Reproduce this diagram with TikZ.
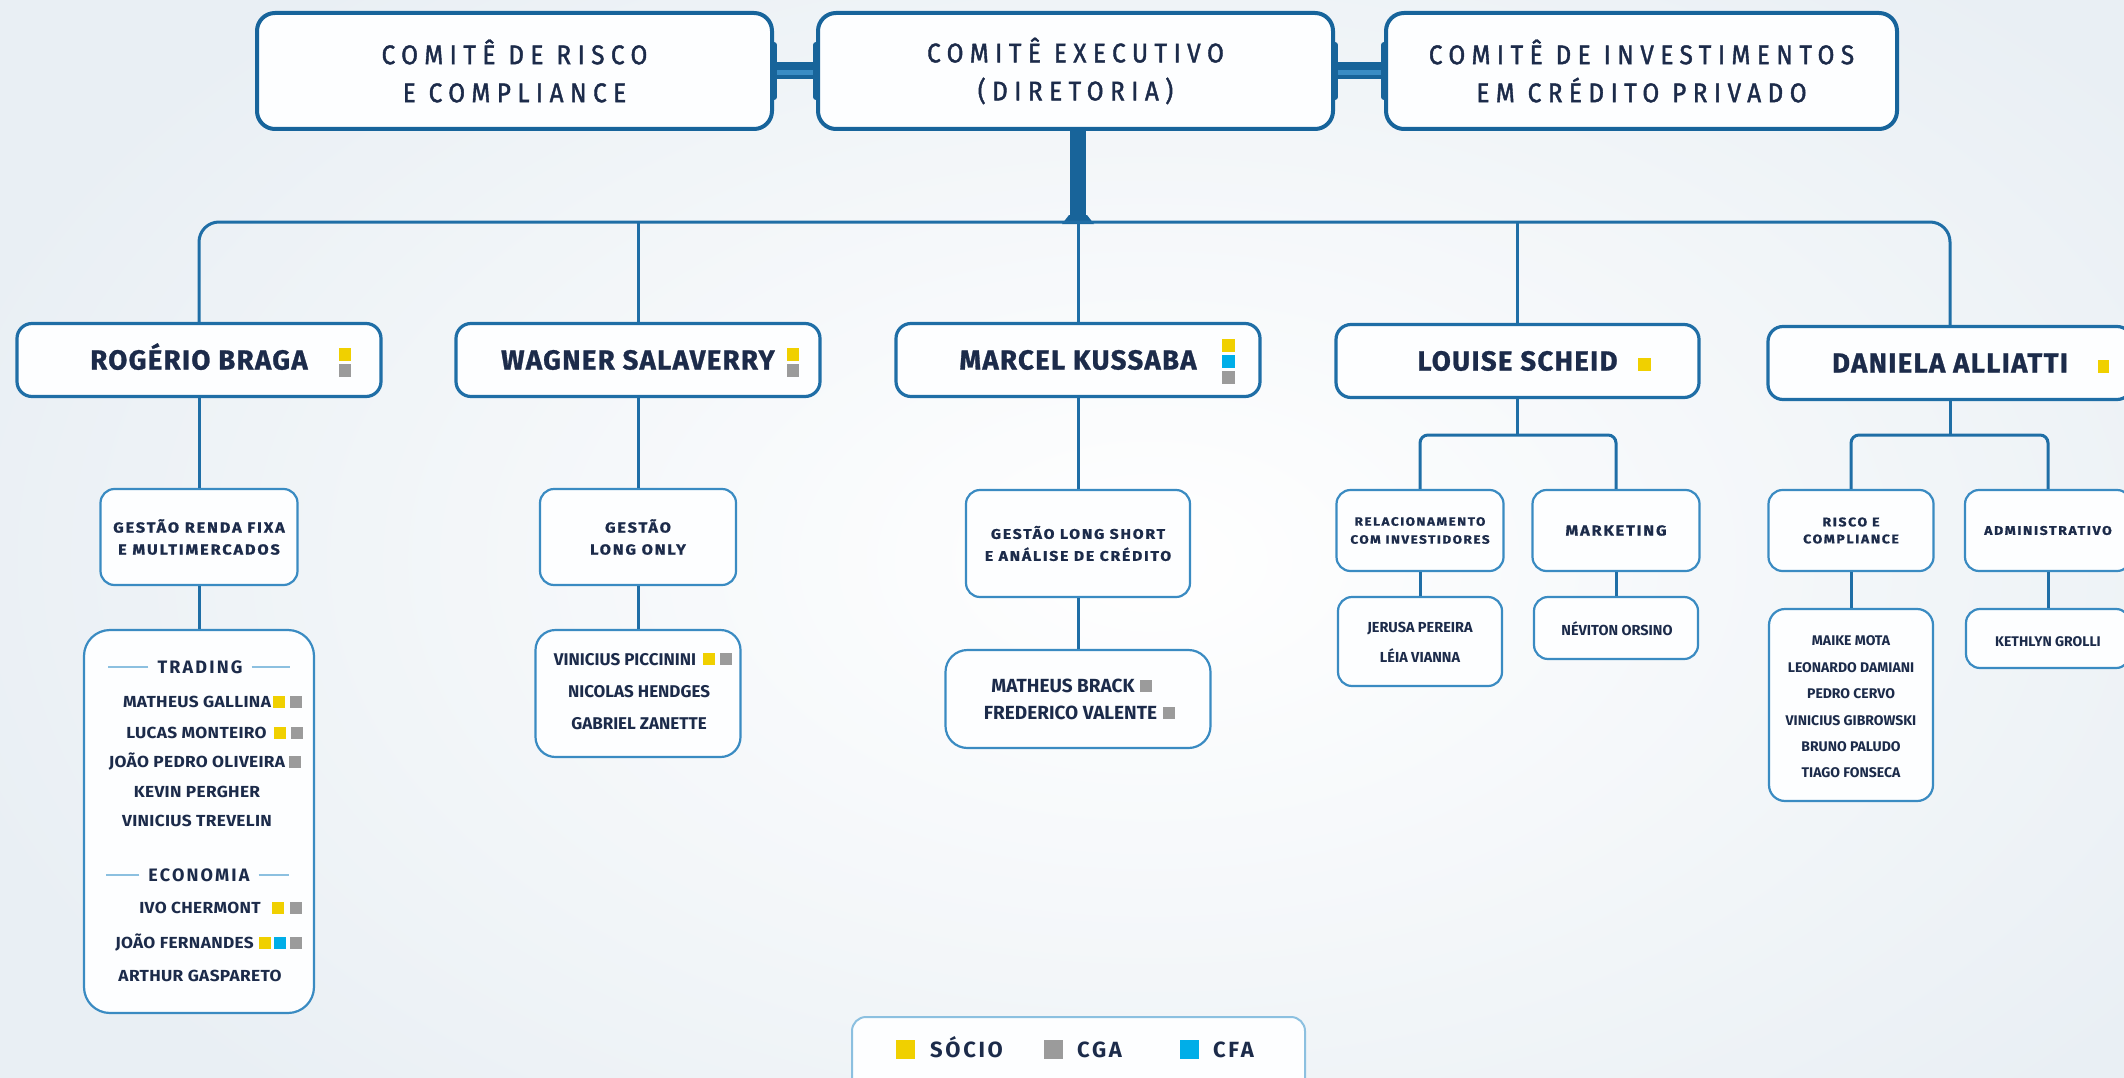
\documentclass[tikz,border=0pt]{standalone}
\usepackage{fontspec}
\setmainfont{Fira Sans}
\newfontfamily\topfont[LetterSpace=24,FakeStretch=0.9,FakeBold=1.5]{Fira Sans}
\newfontfamily\dirfont[LetterSpace=5,FakeBold=1]{Fira Sans}
\newfontfamily\secfont[LetterSpace=13,FakeStretch=1.12,FakeBold=1]{Fira Sans}
\newfontfamily\trfont[LetterSpace=2,FakeStretch=1.08]{Fira Sans}
\newfontfamily\ttlfont[LetterSpace=12]{Fira Sans}
\definecolor{ctext}{HTML}{1C2B4A}
\definecolor{cblue}{HTML}{1F6EA6}
\definecolor{cblue2}{HTML}{3A8BC2}
\definecolor{cdark}{HTML}{17649B}
\definecolor{cbar}{HTML}{18649A}
\definecolor{cbarl}{HTML}{3A8CC4}
\definecolor{cyel}{HTML}{F0D000}
\definecolor{cgray}{HTML}{9B9B9B}
\definecolor{ccyan}{HTML}{00AEE8}
\definecolor{clight}{HTML}{8CC0E0}
\definecolor{bg}{HTML}{E9EFF4}
\definecolor{cbox}{HTML}{FDFEFF}
\usetikzlibrary{calc}
\tikzset{
  topbox/.style={draw=cdark, line width=4pt, rounded corners=18pt, fill=cbox, text=ctext, align=center,
    minimum height=116pt, inner sep=0pt, font=\topfont\fontsize{27}{38}\selectfont},
  dirbox/.style={draw=cblue, line width=3.2pt, rounded corners=15pt, fill=cbox, text=ctext,
    minimum height=73pt, inner sep=0pt, text height=19pt, text depth=0pt,
    font=\dirfont\bfseries\fontsize{27.5}{30}\selectfont},
  secbox/.style={draw=cblue2, line width=2.2pt, rounded corners=14pt, fill=cbox, text=ctext, align=center, inner sep=0pt},
  listbox/.style={draw=cblue2, line width=2.2pt, rounded corners=18pt, fill=cbox, inner sep=0pt},
  conn/.style={draw=cblue, line width=3pt},
  bar/.style={draw=cbar, line width=17pt},
  barhi/.style={draw=cbarl, line width=5pt},
  clamp/.style={draw=cbar, line width=6pt, line cap=round},
  trunk/.style={draw=cbar, line width=16pt},
  badge/.style={fill=#1, draw=none, inner sep=0pt, minimum width=12pt, minimum height=12pt},
  nm/.style={text=ctext, inner sep=0pt, font=\trfont\bfseries\fontsize{16}{16}\selectfont, text height=11pt, text depth=0pt},
  nmw/.style={text=ctext, inner sep=0pt, font=\bfseries\fontsize{17}{17}\selectfont, text height=12pt, text depth=0pt},
  nmm/.style={text=ctext, inner sep=0pt, font=\bfseries\fontsize{19}{19}\selectfont, text height=13pt, text depth=0pt},
  nms/.style={text=ctext, inner sep=0pt, font=\bfseries\fontsize{14.5}{14.5}\selectfont, text height=10pt, text depth=0pt},
  nmd/.style={text=ctext, inner sep=0pt, font=\bfseries\fontsize{14}{14}\selectfont, text height=10pt, text depth=0pt},
  ttl/.style={text=ctext, inner sep=0pt, font=\ttlfont\bfseries\fontsize{18}{18}\selectfont, text height=12.5pt, text depth=0pt},
  deco/.style={draw=clight, line width=2pt},
  legtxt/.style={text=ctext, inner sep=0pt, anchor=west, font=\ttlfont\bfseries\fontsize{22}{22}\selectfont, text height=15pt, text depth=0pt},
}
\begin{document}
\begin{tikzpicture}[x=1pt,y=-1pt]
\useasboundingbox (0,0) rectangle (2124,1078);
\fill[bg] (0,0) rectangle (2124,1078);
\shade[inner color=white, outer color=bg] (1150,560) ellipse (1250 and 760);

% top committees
\node[topbox, minimum width=515pt] (ris) at (514.5,71) {COMITÊ DE RISCO\\E COMPLIANCE};
\node[topbox, minimum width=515pt] (exe) at (1075.5,71) {COMITÊ EXECUTIVO\\(DIRETORIA)};
\node[topbox, minimum width=511pt] (inv) at (1641.5,71) {COMITÊ DE INVESTIMENTOS\\EM CRÉDITO PRIVADO};

\draw[bar] (ris.east) -- (exe.west);
\draw[barhi] ([yshift=-2pt]ris.east) -- ([yshift=-2pt]exe.west);
\draw[bar] (exe.east) -- (inv.west);
\draw[barhi] ([yshift=-2pt]exe.east) -- ([yshift=-2pt]inv.west);
\draw[clamp] ([yshift=26pt]ris.east) -- ([yshift=-26pt]ris.east);
\draw[clamp] ([yshift=26pt]exe.west) -- ([yshift=-26pt]exe.west);
\draw[clamp] ([yshift=26pt]exe.east) -- ([yshift=-26pt]exe.east);
\draw[clamp] ([yshift=26pt]inv.west) -- ([yshift=-26pt]inv.west);

% directors
\node[dirbox, minimum width=364pt] (rog) at (199,360) {ROGÉRIO BRAGA};
\node[dirbox, minimum width=364pt] (wag) at (638,360) {WAGNER SALAVERRY};
\node[dirbox, minimum width=364pt] (mar) at (1078,360) {MARCEL KUSSABA};
\node[dirbox, minimum width=363pt] (lou) at (1517.5,361) {LOUISE SCHEID};
\node[dirbox, minimum width=364pt] (dan) at (1950,363) {DANIELA ALLIATTI};

% trunk and bus
\coordinate (foot) at (1078,222);
\draw[trunk] (foot |- exe.south) -- (foot);
\fill[cbar] (1062,224) -- (1094,224) -- (1087,215) -- (1069,215) -- cycle;
\draw[conn, rounded corners=20pt] (rog.north) |- (foot) -| (dan.north);
\draw[conn] (wag.north) -- (wag.north |- foot);
\draw[conn] (mar.north) -- (foot);
\draw[conn] (lou.north) -- (lou.north |- foot);

% director badges
\node[badge=cyel, minimum height=13pt] (rb1) at (345,354.5) {};
\node[badge=cgray, minimum height=13pt] (rb2) at (345,370.5) {};
\node[badge=cyel, minimum height=13pt] (wb1) at (793,354.5) {};
\node[badge=cgray, minimum height=13pt] (wb2) at (793,370.5) {};
\node[badge=cyel, minimum width=13pt, minimum height=13pt] (mb1) at (1228.5,345.5) {};
\node[badge=ccyan, minimum width=13pt, minimum height=13pt] (mb2) at (1228.5,361.5) {};
\node[badge=cgray, minimum width=13pt, minimum height=13pt] (mb3) at (1228.5,377.5) {};
\node[badge=cyel, minimum width=13pt, minimum height=13pt] (lb1) at (1644.5,364.5) {};
\node[badge=cyel, minimum width=11pt, minimum height=13pt] (db1) at (2103.5,366.5) {};

% section boxes
\node[secbox, minimum width=197pt, minimum height=96pt, font=\secfont\bfseries\fontsize{14.5}{22}\selectfont] (grf) at (199,537) {GESTÃO RENDA FIXA\\E MULTIMERCADOS};
\node[secbox, minimum width=196pt, minimum height=96pt, font=\secfont\bfseries\fontsize{14.5}{22}\selectfont] (glo) at (638,537) {GESTÃO\\LONG ONLY};
\node[secbox, minimum width=224pt, minimum height=107pt, font=\secfont\bfseries\fontsize{14}{22}\selectfont] (gls) at (1078,543.5) {GESTÃO LONG SHORT\\E ANÁLISE DE CRÉDITO};
\node[secbox, minimum width=167pt, minimum height=81pt, font=\secfont\bfseries\fontsize{12}{18}\selectfont] (rel) at (1420,530.5) {RELACIONAMENTO\\COM INVESTIDORES};
\node[secbox, minimum width=167pt, minimum height=81pt, font=\secfont\bfseries\fontsize{14.5}{18}\selectfont] (mkt) at (1616,530.5) {MARKETING};
\node[secbox, minimum width=165pt, minimum height=81pt, font=\secfont\bfseries\fontsize{12.5}{17}\selectfont] (rc) at (1851,530.5) {RISCO E\\COMPLIANCE};
\node[secbox, minimum width=166pt, minimum height=81pt, font=\secfont\bfseries\fontsize{12.5}{17}\selectfont] (adm) at (2048,530.5) {ADMINISTRATIVO};

\draw[conn] (rog.south) -- (grf.north);
\draw[conn] (wag.south) -- (glo.north);
\draw[conn] (mar.south) -- (gls.north);
\coordinate (loub) at (1517.5,435);
\coordinate (danb) at (1950,435);
\draw[conn] (lou.south) -- (loub);
\draw[conn, rounded corners=8pt] (rel.north) |- (loub) -| (mkt.north);
\draw[conn] (dan.south) -- (danb);
\draw[conn, rounded corners=8pt] (rc.north) |- (danb) -| (adm.north);

% list boxes
\node[listbox, minimum width=230pt, minimum height=383pt, rounded corners=26pt] (trd) at (199,821.5) {};
\node[listbox, minimum width=205pt, minimum height=127pt, rounded corners=20pt] (wsub) at (638,693.5) {};
\node[listbox, minimum width=265pt, minimum height=98pt, rounded corners=22pt] (msub) at (1078,699) {};
\node[listbox, minimum width=164pt, minimum height=89pt, rounded corners=14pt] (jer) at (1420,641.5) {};
\node[listbox, minimum width=164pt, minimum height=62pt, rounded corners=14pt] (nev) at (1616,628) {};
\node[listbox, minimum width=164pt, minimum height=192pt, rounded corners=16pt] (mai) at (1851,705) {};
\node[listbox, minimum width=164pt, minimum height=59pt, rounded corners=14pt] (ket) at (2048,638.5) {};

\draw[conn] (grf.south) -- (trd.north);
\draw[conn] (glo.south) -- (wsub.north);
\draw[conn] (gls.south) -- (msub.north);
\draw[conn] (rel.south) -- (jer.north);
\draw[conn] (mkt.south) -- (nev.north);
\draw[conn] (rc.south) -- (mai.north);
\draw[conn] (adm.south) -- (ket.north);

% trading / economia
\node[ttl] (ttr) at (200,667) {TRADING};
\draw[deco] ([xshift=-9pt]ttr.west) -- ++(-40,0);
\draw[deco] ([xshift=9pt]ttr.east) -- ++(38,0);
\node[nm] (n1) at (197,702) {MATHEUS GALLINA};
\node[badge=cyel, anchor=west] (n1a) at ([xshift=2pt]n1.east) {};
\node[badge=cgray, anchor=west] (n1b) at ([xshift=4pt]n1a.east) {};
\node[nm] (n2) at (196.5,733) {LUCAS MONTEIRO};
\node[badge=cyel, anchor=west] (n2a) at ([xshift=7pt]n2.east) {};
\node[badge=cgray, anchor=west] (n2b) at ([xshift=5pt]n2a.east) {};
\node[nm] (n3) at (197,762) {JOÃO PEDRO OLIVEIRA};
\node[badge=cgray, anchor=west] (n3a) at ([xshift=3pt]n3.east) {};
\node[nm] (n4) at (197,792) {KEVIN PERGHER};
\node[nm] (n5) at (197,821) {VINICIUS TREVELIN};
\node[ttl] (tec) at (199,875) {ECONOMIA};
\draw[deco] ([xshift=-9pt]tec.west) -- ++(-33,0);
\draw[deco] ([xshift=9pt]tec.east) -- ++(30,0);
\node[nm] (n6) at (200,908) {IVO CHERMONT};
\node[badge=cyel, anchor=west] (n6a) at ([xshift=11pt]n6.east) {};
\node[badge=cgray, anchor=west] (n6b) at ([xshift=5pt]n6a.east) {};
\node[nm] (n7) at (184.5,943) {JOÃO FERNANDES};
\node[badge=cyel, anchor=west] (n7a) at ([xshift=5pt]n7.east) {};
\node[badge=ccyan, anchor=west] (n7b) at ([xshift=2pt]n7a.east) {};
\node[badge=cgray, anchor=west] (n7c) at ([xshift=4pt]n7b.east) {};
\node[nm] (n8) at (200,976) {ARTHUR GASPARETO};

% long only team
\node[nmw] (w1) at (625,659) {VINICIUS PICCININI};
\node[badge=cyel, anchor=west] (w1a) at ([xshift=6pt]w1.east) {};
\node[badge=cgray, anchor=west] (w1b) at ([xshift=5pt]w1a.east) {};
\node[nmw] (w2) at (639,691) {NICOLAS HENDGES};
\node[nmw] (w3) at (639,723) {GABRIEL ZANETTE};

% long short team
\node[nmm] (m1) at (1063,686) {MATHEUS BRACK};
\node[badge=cgray, anchor=west] (m1a) at ([xshift=5pt]m1.east) {};
\node[nmm] (m2) at (1070.5,713) {FREDERICO VALENTE};
\node[badge=cgray, anchor=west] (m2a) at ([xshift=6pt]m2.east) {};

% louise teams
\node[nms] (j1) at (1420,627) {JERUSA PEREIRA};
\node[nms] (j2) at (1420,657) {LÉIA VIANNA};
\node[nms] (v1) at (1617,630) {NÉVITON ORSINO};

% daniela teams
\node[nmd] (d1) at (1851,640) {MAIKE MOTA};
\node[nmd] (d2) at (1851,667) {LEONARDO DAMIANI};
\node[nmd] (d3) at (1851,693) {PEDRO CERVO};
\node[nmd] (d4) at (1851,720) {VINICIUS GIBROWSKI};
\node[nmd] (d5) at (1851,746) {BRUNO PALUDO};
\node[nmd] (d6) at (1851,772) {TIAGO FONSECA};
\node[nmd] (k1) at (2048,641) {KETHLYN GROLLI};

% legend
\node[draw=clight, line width=2pt, rounded corners=14pt, fill=cbox, minimum width=453pt, minimum height=80pt, inner sep=0pt] (leg) at (1078.5,1057) {};
\node[badge=cyel, minimum width=19pt, minimum height=19pt] (ly) at (905.5,1049.5) {};
\node[legtxt] (lyt) at (930,1049.5) {SÓCIO};
\node[badge=cgray, minimum width=19pt, minimum height=19pt] (lg) at (1053,1049.5) {};
\node[legtxt] (lgt) at (1077,1049.5) {CGA};
\node[badge=ccyan, minimum width=19pt, minimum height=19pt] (lc) at (1189,1049.5) {};
\node[legtxt] (lct) at (1213,1049.5) {CFA};
\end{tikzpicture}
\end{document}
